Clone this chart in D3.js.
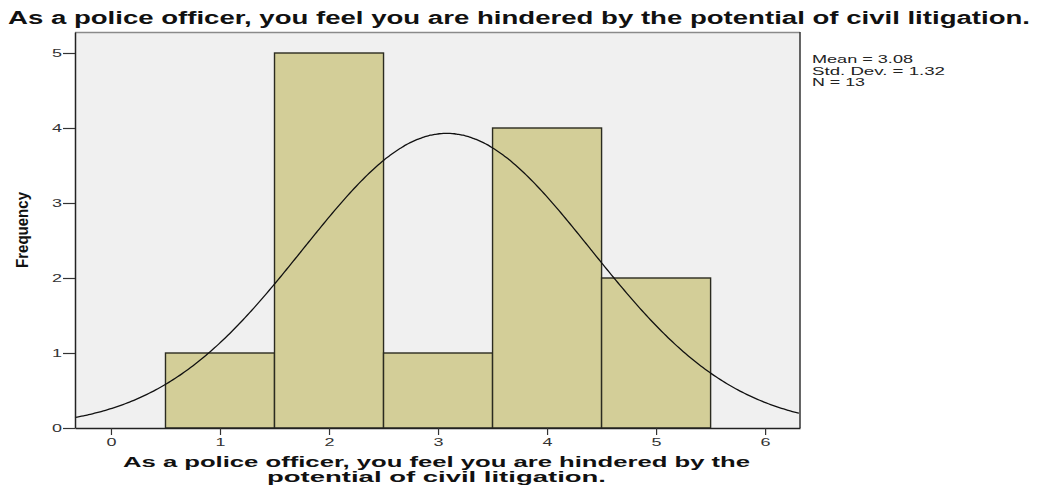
<!DOCTYPE html>
<html>
<head>
<meta charset="utf-8">
<script src="https://cdn.jsdelivr.net/npm/d3@7"></script>
<style>
  html, body { margin: 0; padding: 0; background: #ffffff; }
  svg { display: block; }
  text { font-family: "Liberation Sans", Arial, sans-serif; }
</style>
</head>
<body>
<svg id="chart" width="1038" height="486"></svg>
<script>
// Response values (scale points) and how many officers chose each
const responseValues = [1, 2, 3, 4, 5];
const frequencies = [1, 5, 1, 4, 2];
const yTickValues = [0, 1, 2, 3, 4, 5];
const xTickValues = [0, 1, 2, 3, 4, 5, 6];
const statLines = ["Mean = 3.08", "Std. Dev. = 1.32", "N = 13"];
const statMean = 3.08;
const statSD = 1.32;
const statN = 13;

const titleText = "As a police officer, you feel you are hindered by the potential of civil litigation.";
const xLabelLines = ["As a police officer, you feel you are hindered by the", "potential of civil litigation."];
const yLabelText = "Frequency";

const svg = d3.select("#chart");
const plot = { left: 75, right: 800, top: 32, bottom: 428 };

const x = d3.scaleLinear().domain([-0.33, 6.32]).range([plot.left, plot.right]);
const y = d3.scaleLinear().domain([0, 5.28]).range([plot.bottom, plot.top]);

// Plot background
svg.append("rect")
  .attr("x", plot.left).attr("y", plot.top)
  .attr("width", plot.right - plot.left).attr("height", plot.bottom - plot.top)
  .attr("fill", "#f0f0f0");

// Histogram bars (bin width 1, centred on each response value)
svg.append("g").selectAll("rect")
  .data(responseValues.map((v, i) => ({ v, f: frequencies[i] })))
  .join("rect")
  .attr("x", d => x(d.v - 0.5))
  .attr("y", d => y(d.f))
  .attr("width", d => x(d.v + 0.5) - x(d.v - 0.5))
  .attr("height", d => y(0) - y(d.f))
  .attr("fill", "#d3ce98")
  .attr("stroke", "#2b2b20")
  .attr("stroke-width", 1.4);

// Fitted normal curve scaled to counts
const curveX = d3.range(-0.33, 6.321, 0.02);
const dens = v => statN * Math.exp(-0.5 * Math.pow((v - statMean) / statSD, 2)) / (statSD * Math.sqrt(2 * Math.PI));
svg.append("path")
  .datum(curveX)
  .attr("d", d3.line().x(d => x(d)).y(d => y(dens(d))).curve(d3.curveBasis))
  .attr("fill", "none")
  .attr("stroke", "#111")
  .attr("stroke-width", 1.3);

// Frame: top and right borders
svg.append("line")
  .attr("x1", plot.left).attr("x2", plot.right).attr("y1", plot.top + 0.5).attr("y2", plot.top + 0.5)
  .attr("stroke", "#8a8a8a").attr("stroke-width", 1.5);
svg.append("line")
  .attr("x1", plot.right).attr("x2", plot.right).attr("y1", plot.top).attr("y2", plot.bottom)
  .attr("stroke", "#333").attr("stroke-width", 1.5);

// Y axis
const yAxis = d3.axisLeft(y).tickValues(yTickValues).tickFormat(d3.format("d"))
  .tickSize(12).tickPadding(1).tickSizeOuter(0);
const gy = svg.append("g").attr("transform", `translate(${plot.left},0)`).call(yAxis);
gy.select(".domain").attr("stroke", "#222").attr("stroke-width", 1.5);
gy.selectAll(".tick line").attr("stroke", "#333").attr("stroke-width", 1.2);
gy.selectAll(".tick text").attr("font-size", 11).attr("fill", "#333")
  .attr("font-family", "'Liberation Sans', Arial, sans-serif")
  .attr("textLength", 10).attr("lengthAdjust", "spacingAndGlyphs");

// X axis
const xAxis = d3.axisBottom(x).tickValues(xTickValues).tickFormat(d3.format("d"))
  .tickSize(7).tickPadding(3).tickSizeOuter(0);
const gx = svg.append("g").attr("transform", `translate(0,${plot.bottom})`).call(xAxis);
gx.select(".domain").attr("stroke", "#222").attr("stroke-width", 1.5);
gx.selectAll(".tick line").attr("stroke", "#333").attr("stroke-width", 1.2);
gx.selectAll(".tick text").attr("font-size", 11).attr("fill", "#333")
  .attr("font-family", "'Liberation Sans', Arial, sans-serif")
  .attr("textLength", 10).attr("lengthAdjust", "spacingAndGlyphs");

// Title
svg.append("text")
  .attr("x", 8).attr("y", 24)
  .attr("font-size", 18).attr("font-weight", "bold").attr("fill", "#111")
  .attr("textLength", 1022).attr("lengthAdjust", "spacingAndGlyphs")
  .text(titleText);

// Statistics box
const statLengths = [101, 133, 53];
svg.append("g").selectAll("text")
  .data(statLines)
  .join("text")
  .attr("x", 812)
  .attr("y", (d, i) => 63 + i * 11.5)
  .attr("font-size", 10.5)
  .attr("fill", "#222")
  .attr("textLength", (d, i) => statLengths[i]).attr("lengthAdjust", "spacingAndGlyphs")
  .text(d => d);

// X axis label (two lines)
const xLabelLengths = [627, 339];
svg.append("g").selectAll("text")
  .data(xLabelLines)
  .join("text")
  .attr("x", (plot.left + plot.right) / 2 - 1)
  .attr("y", (d, i) => 467 + i * 15)
  .attr("text-anchor", "middle")
  .attr("font-size", 14).attr("font-weight", "bold").attr("fill", "#111")
  .attr("textLength", (d, i) => xLabelLengths[i]).attr("lengthAdjust", "spacingAndGlyphs")
  .text(d => d);

// Y axis label
svg.append("text")
  .attr("transform", "translate(28,230) rotate(-90)")
  .attr("text-anchor", "middle")
  .attr("font-size", 17).attr("font-weight", "bold").attr("fill", "#111")
  .attr("textLength", 76).attr("lengthAdjust", "spacingAndGlyphs")
  .text(yLabelText);
</script>
</body>
</html>
